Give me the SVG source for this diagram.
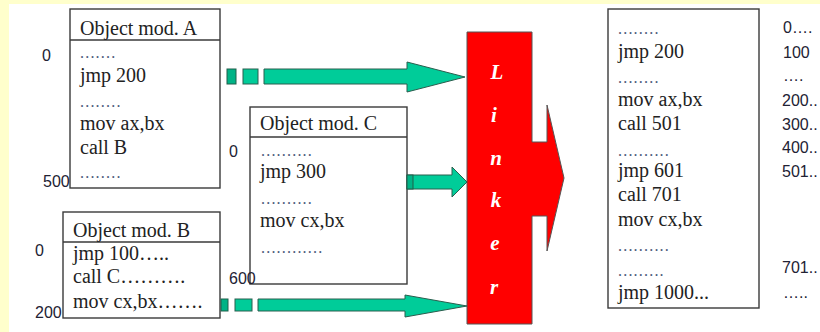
<svg xmlns="http://www.w3.org/2000/svg" width="820" height="332" viewBox="0 0 820 332">
  <style>
    .box { fill: #ffffff; stroke: #3a3a3a; stroke-width: 1.4; }
    .sep { stroke: #3a3a3a; stroke-width: 1.4; }
    .code { font-family: "Liberation Serif", "Times New Roman", serif; font-size: 20px; fill: #222222; }
    .dots { font-family: "Liberation Serif", "Times New Roman", serif; font-size: 16px; fill: #4a5a7a; letter-spacing: 1.2px; }
    .addr { font-family: "Liberation Sans", Arial, sans-serif; font-size: 16px; fill: #222233; }
    .addr2 { font-family: "Liberation Sans", Arial, sans-serif; font-size: 16px; fill: #222233; }
    .flow { fill: #00cc99; stroke: #2a5e4e; stroke-width: 1; }
    .chip { fill: #00b386; stroke: #1f5f4a; stroke-width: 1; }
    .linker { fill: #ff0000; stroke: #555555; stroke-width: 1; }
    .letter { font-family: "Liberation Serif", "Times New Roman", serif; font-size: 21px; font-weight: bold; font-style: italic; fill: #ffffff; text-anchor: middle; }
  </style>

  <!-- page background -->
  <rect x="0" y="0" width="820" height="332" fill="#ffffcc"/>
  <rect x="9" y="4" width="811" height="328" fill="#ffffff"/>

  <!-- object module A -->
  <g id="modA">
    <rect class="box" x="70" y="9" width="150" height="179"/>
    <line class="sep" x1="70" y1="40" x2="220" y2="40"/>
    <text class="code" x="80" y="35">Object mod. A</text>
    <text class="dots" x="80" y="58">.......</text>
    <text class="code" x="80" y="82">jmp 200</text>
    <text class="dots" x="80" y="107">........</text>
    <text class="code" x="80" y="130">mov ax,bx</text>
    <text class="code" x="80" y="154">call B</text>
    <text class="dots" x="80" y="178">........</text>
    <text class="addr" x="42" y="61">0</text>
    <text class="addr" x="43" y="187">500</text>
  </g>

  <!-- object module B -->
  <g id="modB">
    <rect class="box" x="63" y="212" width="157" height="106"/>
    <line class="sep" x1="63" y1="242" x2="220" y2="242"/>
    <text class="code" x="73" y="237">Object mod. B</text>
    <text class="code" x="73" y="260">jmp 100…..</text>
    <text class="code" x="73" y="283">call C……….</text>
    <text class="code" x="73" y="308">mov cx,bx…….</text>
    <text class="addr" x="35" y="256">0</text>
    <text class="addr" x="35" y="318">200</text>
  </g>

  <!-- object module C -->
  <g id="modC">
    <rect class="box" x="250" y="107" width="157" height="177"/>
    <line class="sep" x1="250" y1="137" x2="407" y2="137"/>
    <text class="code" x="260" y="130">Object mod. C</text>
    <text class="dots" x="261" y="156">..........</text>
    <text class="code" x="260" y="178">jmp 300</text>
    <text class="dots" x="261" y="204">..........</text>
    <text class="code" x="260" y="227">mov cx,bx</text>
    <text class="dots" x="261" y="253">............</text>
    <text class="addr" x="229" y="157">0</text>
    <text class="addr" x="229" y="284">600</text>
  </g>

  <!-- linker block with output arrow -->
  <g id="linker">
    <polygon class="linker" points="467,32 532,32 532,142 547,142 547,105 564,178 547,251 547,216 532,216 532,324 467,324"/>
    <text class="letter" x="497" y="79">L</text>
    <text class="letter" x="494" y="122">i</text>
    <text class="letter" x="496" y="165">n</text>
    <text class="letter" x="496" y="207">k</text>
    <text class="letter" x="495" y="250">e</text>
    <text class="letter" x="494" y="294">r</text>
  </g>

  <!-- linked executable -->
  <g id="output">
    <rect class="box" x="608" y="9" width="151" height="299"/>
    <text class="dots" x="618" y="34">........</text>
    <text class="code" x="618" y="58">jmp 200</text>
    <text class="dots" x="618" y="83">........</text>
    <text class="code" x="618" y="106">mov ax,bx</text>
    <text class="code" x="618" y="130">call 501</text>
    <text class="dots" x="618" y="156">..........</text>
    <text class="code" x="618" y="177">jmp 601</text>
    <text class="code" x="618" y="201">call 701</text>
    <text class="code" x="618" y="226">mov cx,bx</text>
    <text class="dots" x="618" y="251">..........</text>
    <text class="dots" x="618" y="276">.........</text>
    <text class="code" x="618" y="299">jmp 1000...</text>
  </g>

  <!-- load addresses -->
  <g id="addresses">
    <text class="addr2" x="783" y="33">0….</text>
    <text class="addr2" x="783" y="58">100</text>
    <text class="addr2" x="783" y="81">….</text>
    <text class="addr2" x="782" y="106">200..</text>
    <text class="addr2" x="782" y="130">300..</text>
    <text class="addr2" x="782" y="153">400..</text>
    <text class="addr2" x="782" y="177">501..</text>
    <text class="addr2" x="782" y="273">701..</text>
    <text class="addr2" x="783" y="298">…..</text>
  </g>

  <!-- arrows into the linker -->
  <g id="connectors">
    <rect class="chip" x="227" y="69" width="9" height="15"/>
    <rect class="flow" x="243" y="69" width="15" height="15"/>
    <polygon class="flow" points="264,69 407,69 407,62 465,77 407,92 407,84 264,84"/>

    <polygon class="flow" points="407,175 452,175 452,167 467,182 452,197 452,189 407,189"/>
    <rect class="chip" x="407" y="175" width="6" height="14"/>

    <rect class="chip" x="221" y="299" width="7" height="12"/>
    <rect class="flow" x="235" y="299" width="17" height="12"/>
    <polygon class="flow" points="258,299 405,299 405,295 467,306 405,317 405,311 258,311"/>
  </g>
</svg>
